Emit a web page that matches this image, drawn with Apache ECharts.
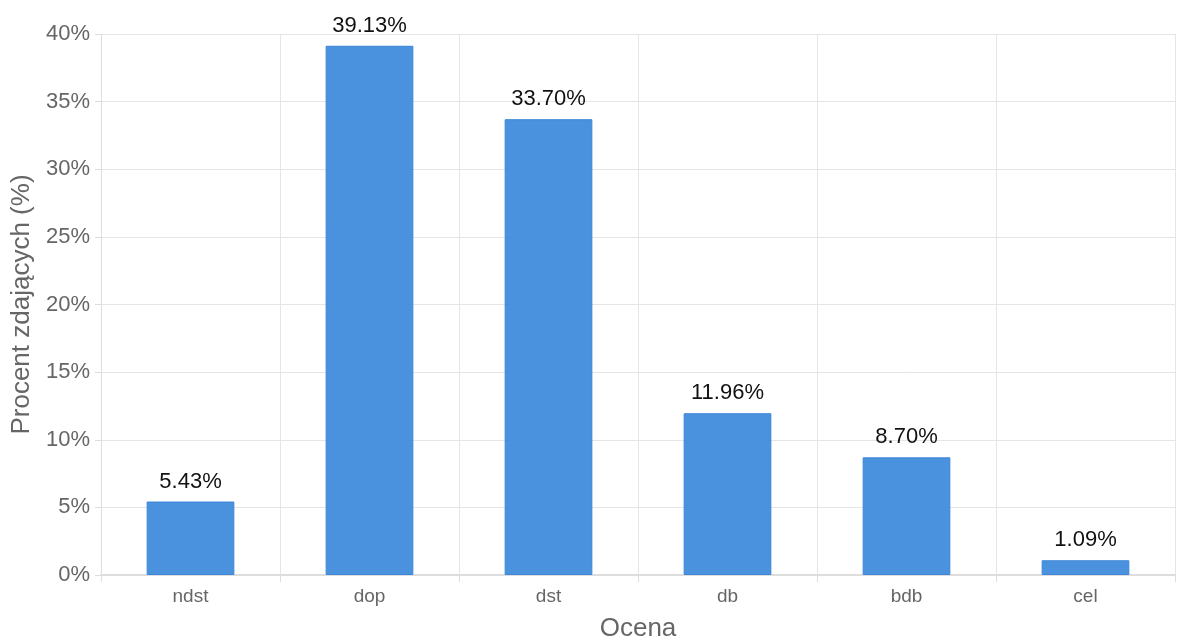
<!DOCTYPE html>
<html><head><meta charset="utf-8">
<script src="https://cdn.jsdelivr.net/npm/echarts@6/dist/echarts.min.js"></script>
<style>html,body{margin:0;padding:0;background:#fff}#c{width:1178px;height:642px}</style>
</head><body><div id="c"></div>
<script>
const categories = ['ndst','dop','dst','db','bdb','cel'];
const values = [5.43, 39.13, 33.70, 11.96, 8.70, 1.09];
const yTicks = [0,5,10,15,20,25,30,35,40];

const chart = echarts.init(document.getElementById('c'));
chart.setOption({
  animation:false,
  textStyle:{fontFamily:'"Liberation Sans", Arial, sans-serif'},
  grid:{left:101,right:3,top:34,bottom:67,outerBoundsMode:'none',containLabel:false},
  xAxis:{
    type:'category', data:categories,
    name:'Ocena', nameLocation:'middle', nameGap:41,
    nameTextStyle:{fontSize:26,color:'#666'},
    axisLine:{lineStyle:{color:'#ddd',width:2}},
    axisTick:{show:true,length:7,lineStyle:{color:'#ddd'}},
    axisLabel:{fontSize:19,color:'#666',margin:12},
    splitLine:{show:true,lineStyle:{color:'#e5e5e5'}}
  },
  yAxis:{
    type:'value', min:yTicks[0], max:yTicks[yTicks.length-1], interval:5,
    name:'Procent zdających (%)', nameLocation:'middle', nameGap:63,
    nameTextStyle:{fontSize:26,color:'#666'},
    axisLine:{show:true,lineStyle:{color:'#ddd'}},
    axisTick:{show:true,length:6,lineStyle:{color:'#ddd'}},
    axisLabel:{fontSize:22,color:'#666',formatter:'{value}%',margin:11},
    splitLine:{lineStyle:{color:'#e5e5e5'}}
  },
  series:[{
    type:'bar', data:values, barWidth:'49%',
    itemStyle:{color:'rgba(54,134,217,0.9)',borderColor:'#3d86d8',borderWidth:1},
    label:{show:true,position:'top',distance:9,fontSize:22,color:'#111',
      formatter:p=>p.value.toFixed(2)+'%'}
  }]
});
</script></body></html>
